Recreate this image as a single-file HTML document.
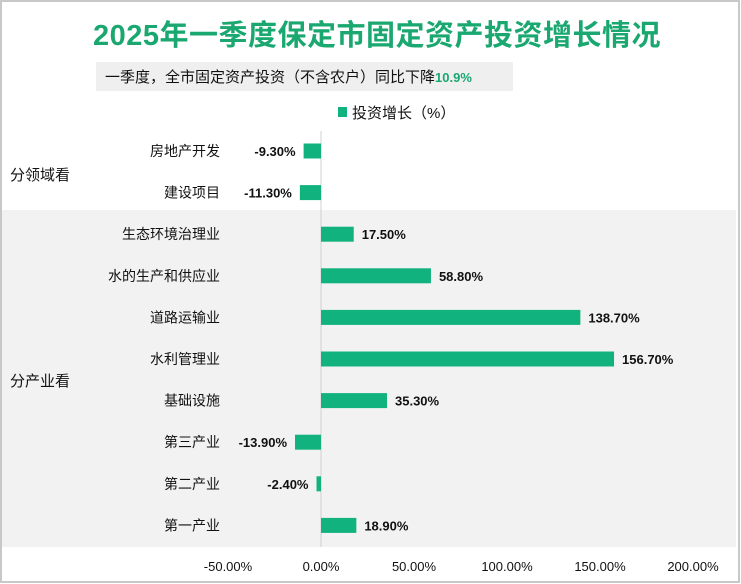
<!DOCTYPE html>
<html><head><meta charset="utf-8"><style>
body{margin:0;background:#fff;}
svg{display:block;font-family:"Liberation Sans","Noto Sans CJK SC",sans-serif;}
</style></head><body>
<svg id="c" width="741" height="584">
<rect x="1" y="1" width="738" height="581" fill="#fff" stroke="#c8c8c8" stroke-width="2"/>
<rect x="2" y="210" width="734" height="337" fill="#f2f2f2"/>
<text x="377" y="45" text-anchor="middle" font-size="29" font-weight="bold" fill="#1aa870" letter-spacing="0.5">2025年一季度保定市固定资产投资增长情况</text>
<rect x="96" y="62" width="417" height="29" fill="#efefef"/>
<text x="105" y="82" font-size="15" fill="#111">一季度，全市固定资产投资（不含农户）同比下降<tspan fill="#1aa870" font-weight="bold" font-size="13">10.9%</tspan></text>
<rect x="338" y="107" width="9" height="10" fill="#12b27e"/>
<text x="352" y="118" font-size="15" fill="#111">投资增长（%）</text>
<text x="10" y="180" font-size="15" fill="#111">分领域看</text>
<text x="10" y="386" font-size="15" fill="#111">分产业看</text>
<line x1="321" y1="131" x2="321" y2="547" stroke="#d0d0d0"/>
<g id="bars"></g>
</svg>
<script>
const categories=["房地产开发","建设项目","生态环境治理业","水的生产和供应业","道路运输业","水利管理业","基础设施","第三产业","第二产业","第一产业"];
const values=[-9.3,-11.3,17.5,58.8,138.7,156.7,35.3,-13.9,-2.4,18.9];
const valueLabels=["-9.30%","-11.30%","17.50%","58.80%","138.70%","156.70%","35.30%","-13.90%","-2.40%","18.90%"];
const ticks=[-50,0,50,100,150,200];
const tickLabels=["-50.00%","0.00%","50.00%","100.00%","150.00%","200.00%"];
const NS="http://www.w3.org/2000/svg";
const x=v=>321+v*1.87;
const y=i=>151+i*41.6;
const g=document.getElementById('bars');
function mk(t,a){const e=document.createElementNS(NS,t);for(const k in a)e.setAttribute(k,a[k]);g.appendChild(e);return e;}
categories.forEach((c,i)=>{
 const v=values[i],cy=y(i);
 const r=mk('rect',{x:Math.min(x(0),x(v)),y:cy-7.5,width:Math.abs(x(v)-x(0)),height:15,fill:'#12b27e'});
 
 
 const l=mk('text',{x:220,y:cy+5,'text-anchor':'end','font-size':14,fill:'#111'});l.textContent=c;
 
 
 const vl=mk('text',{x:v<0?x(v)-8:x(v)+8,y:cy+5,'text-anchor':v<0?'end':'start','font-size':13,'font-weight':'bold',fill:'#111'});vl.textContent=valueLabels[i];
 
 
});
ticks.forEach((t,i)=>{
 const tl=mk('text',{x:321+t*1.86,y:571,'text-anchor':'middle','font-size':13,fill:'#111'});tl.textContent=tickLabels[i];
 
 
});
</script>
</body></html>
